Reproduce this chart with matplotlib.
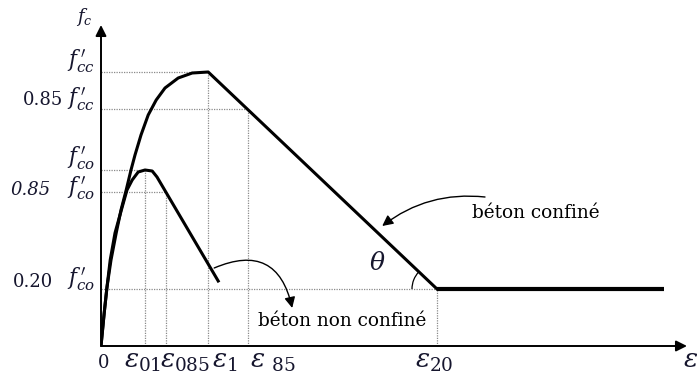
import numpy as np
import matplotlib
matplotlib.use("Agg")
import matplotlib.pyplot as plt
from matplotlib.patches import Arc

plt.rcParams["font.family"] = ["DejaVu Serif"]
plt.rcParams["mathtext.fontset"] = "dejavuserif"

""" Data (strain in per mille, stress in MPa) """

# confined concrete: rising branch and linear softening, then residual plateau
eps_conf = [0, 0.08, 0.15, 0.25, 0.38, 0.5, 0.63, 0.75, 0.85, 1.0, 1.18, 1.38, 1.6, 1.93, 2.28, 2.68, 8.4]
fc_conf = [0, 6.6, 11.8, 17.2, 22.6, 27.2, 31.2, 35.2, 38.2, 42.2, 46.2, 49.2, 51.6, 53.6, 54.6, 54.8, 11.4]
eps_residual = [8.4, 14.08]
fc_residual = [11.4, 11.4]

# unconfined concrete
eps_unc = [0, 0.08, 0.15, 0.23, 0.35, 0.53, 0.65, 0.78, 0.93, 1.1, 1.28, 1.4, 2.93]
fc_unc = [0, 6.6, 11.8, 17.2, 22.6, 27.8, 31.2, 33.2, 34.8, 35.2, 35.0, 33.8, 13.0]

# characteristic points (strain, stress) joined to the axes by dotted lines
key_strain = [2.68, 3.68, 1.1, 1.63, 8.4]
key_stress = [54.8, 47.4, 35.2, 30.8, 11.4]
stress_factor = ["", "0.85", "", "0.85", "0.20"]
stress_symbol = [r"$f^{\,\prime}_{cc}$", r"$f^{\,\prime}_{cc}$", r"$f^{\,\prime}_{co}$",
                 r"$f^{\,\prime}_{co}$", r"$f^{\,\prime}_{co}$"]
factor_style = ["normal", "normal", "normal", "italic", "normal"]

strain_ticks = [0, 1.1, 1.63, 2.68, 3.68, 8.4]
strain_labels = ["0", r"$\varepsilon_{01}$", r"$\varepsilon_{085}$", r"$\varepsilon_{1}$",
                 r"$\varepsilon\;{}_{85}$", r"$\varepsilon_{20}$"]

x_max, y_max = 14.65, 64.2
ink = "#16162e"
grid_color = "#8a8a8a"

# label placement, in pixels relative to the anchor point on an axis
symbol_dy = [3, 4, 2, 10, 4]
factor_dx = [0, -38, 0, -50, -48]
factor_dy = [0, -4, 0, 3, -2]
strain_label_dx = [3, -21, -6, 4, 2, -22]
px = 0.72  # points per pixel at 100 dpi

""" Plot """

figure = plt.figure(figsize=(6.97, 3.81), dpi=100)
axes = figure.add_axes([101 / 697, 35 / 381, 586 / 697, 321 / 381])
axes.set_xlim(0, x_max)
axes.set_ylim(0, y_max)
axes.set_axis_off()

# axes drawn as arrows
arrow_props = dict(arrowstyle="-|>", lw=1.4, color="black", mutation_scale=16, shrinkA=0, shrinkB=0)
axes.annotate("", xy=(x_max, 0), xytext=(0, 0), arrowprops=arrow_props, annotation_clip=False)
axes.annotate("", xy=(0, y_max), xytext=(0, 0), arrowprops=arrow_props, annotation_clip=False)

# dotted guide lines from the characteristic points to both axes
for e, f in zip(key_strain, key_stress):
    axes.plot([0, e], [f, f], linestyle=(0, (1, 1)), color=grid_color, lw=0.9, zorder=1)
    axes.plot([e, e], [0, f], linestyle=(0, (1, 1)), color=grid_color, lw=0.9, zorder=1)

# stress-strain curves
axes.plot(eps_conf, fc_conf, color="black", lw=2.2, solid_joinstyle="round", zorder=3)
axes.plot(eps_residual, fc_residual, color="black", lw=3.0, solid_capstyle="butt", zorder=3)
axes.plot(eps_unc, fc_unc, color="black", lw=2.2, solid_joinstyle="round", zorder=3)

# angle theta between softening branch and residual plateau
vertex = (eps_conf[-1], fc_conf[-1])
slope_angle = np.degrees(np.arctan2(fc_conf[-2] - fc_conf[-1], eps_conf[-2] - eps_conf[-1]))
axes.add_patch(Arc(vertex, 2 * 25 / 40, 2 * 25 / 5, theta1=slope_angle, theta2=180, color="black", lw=0.9))
axes.text(6.9, 16.4, r"$\theta$", fontsize=18, color=ink, ha="center", va="center")

# stress labels on the vertical axis
for f, factor, symbol, sdy, fdx, fdy, style in zip(key_stress, stress_factor, stress_symbol,
                                                  symbol_dy, factor_dx, factor_dy, factor_style):
    axes.annotate(symbol, xy=(0, f), xytext=(-6 * px, -sdy * px), textcoords="offset points",
                  fontsize=15.5, color=ink, ha="right", va="bottom", annotation_clip=False)
    if factor:
        axes.annotate(factor, xy=(0, f), xytext=(fdx * px, -fdy * px), textcoords="offset points",
                      fontsize=13, color=ink, ha="right", va="baseline", style=style,
                      annotation_clip=False)
axes.annotate(r"$f_c$", xy=(0, y_max), xytext=(-17 * px, -3 * px), textcoords="offset points",
              fontsize=13, color=ink, ha="center", va="bottom", annotation_clip=False)

# strain labels under the horizontal axis
for e, label, dx in zip(strain_ticks, strain_labels, strain_label_dx):
    plain = label == "0"
    axes.annotate(label, xy=(e, 0), xytext=(dx * px, -22 * px), textcoords="offset points",
                  fontsize=13 if plain else 19, color=ink, ha="center" if plain else "left",
                  va="baseline", annotation_clip=False)
axes.annotate(r"$\varepsilon_c$", xy=(x_max, 0), xytext=(-4 * px, -22 * px), textcoords="offset points",
              fontsize=19, color=ink, ha="left", va="baseline", annotation_clip=False)

# curve names with curved pointers
axes.text(10.88, 26.6, "béton confiné", fontsize=13.3, color="black", ha="center", va="center")
axes.annotate("", xy=(7.03, 24.0), xytext=(9.6, 29.8),
              arrowprops=dict(arrowstyle="-|>", lw=1.0, color="black", mutation_scale=16,
                              connectionstyle="arc3,rad=0.2", shrinkA=0, shrinkB=0))
axes.text(6.03, 5.0, "béton non confiné", fontsize=13.3, color="black", ha="center", va="center")
axes.annotate("", xy=(4.78, 7.6), xytext=(2.83, 15.6),
              arrowprops=dict(arrowstyle="-|>", lw=1.0, color="black", mutation_scale=16,
                              connectionstyle="arc3,rad=-0.6", shrinkA=0, shrinkB=0))

figure.savefig("out.png", dpi=100)
